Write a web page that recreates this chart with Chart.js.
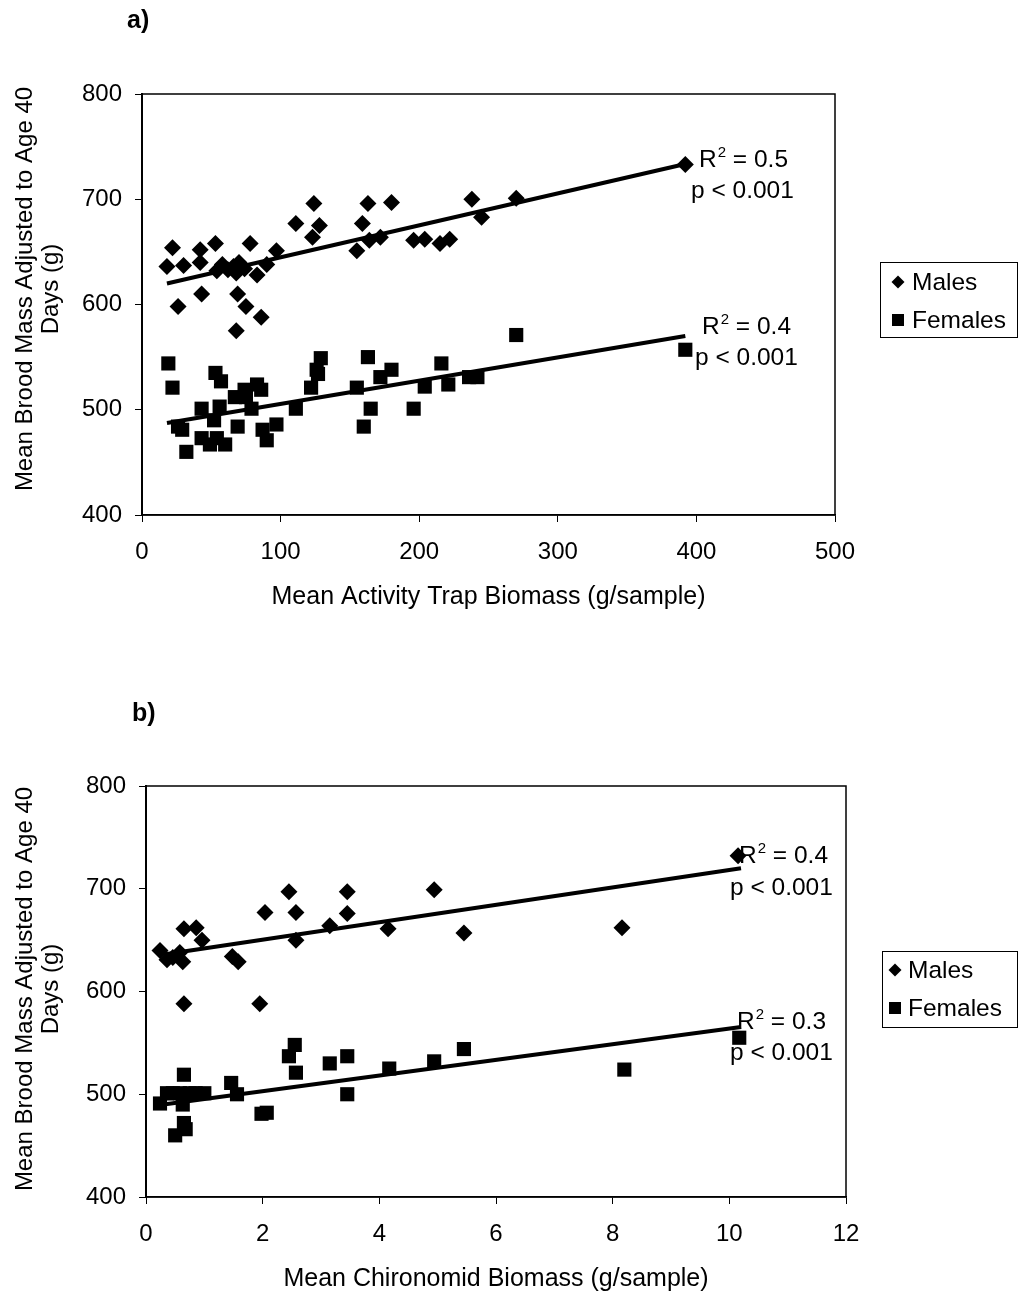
<!DOCTYPE html>
<html>
<head>
    <meta charset="UTF-8">
    <title>Brood mass vs biomass</title>
    <style>
        body { margin: 0; background: #fff; }
        canvas { position: absolute; left: 0; }
    </style>
</head>
<body>
<script src="https://cdn.jsdelivr.net/npm/chart.js@4.4.1/dist/chart.umd.min.js"></script>
<canvas id="chartA" width="1018" height="640" style="top:0"></canvas>
<canvas id="chartB" width="1018" height="655" style="top:640px"></canvas>

<script type="text/javascript">
    // panel a) - activity trap biomass
    var aMaleX = [18, 22, 26, 30, 42, 42, 43, 53, 54, 58, 62, 66, 68, 70, 69, 68, 74, 75, 78, 83, 86, 90, 97,
        111, 123, 124, 128, 155, 159, 163, 164, 172, 180, 196, 204, 215, 222, 238, 245, 270, 392];
    var aMaleY = [636, 654, 598, 637, 652, 640, 610, 658, 632, 638, 633, 636, 630, 640, 610, 575, 634, 598, 658, 628, 588, 638, 651,
        677, 664, 696, 675, 651, 677, 696, 661, 664, 697, 661, 662, 658, 662, 700, 683, 701, 733];
    var aFemaleX = [19, 22, 26, 29, 32, 43, 43, 49, 52, 53, 54, 56, 57, 60, 67, 69, 74, 75, 79, 83, 86, 87, 90, 97,
        111, 122, 126, 127, 129, 155, 160, 163, 165, 172, 180, 196, 204, 216, 221, 236, 242, 270, 392];
    var aFemaleY = [544, 521, 484, 481, 460, 501, 473, 467, 490, 535, 473, 503, 527, 467, 512, 484, 519, 512, 501, 524, 519, 481, 471, 486,
        501, 521, 538, 534, 549, 521, 484, 550, 501, 531, 538, 501, 522, 544, 524, 531, 531, 571, 557];
    var aTrendX = [18, 392];
    var aMaleTrend = [620, 733.5];
    var aFemaleTrend = [487.5, 570];

    // panel b) - chironomid biomass
    var bMaleX = [0.24, 0.36, 0.46, 0.58, 0.63, 0.65, 0.65, 0.86, 0.96, 1.48, 1.58, 1.95, 2.04, 2.45, 2.57, 2.57,
        3.15, 3.45, 3.45, 4.15, 4.94, 5.45, 8.16, 10.15];
    var bMaleY = [640, 631, 633, 638, 629, 588, 661, 662, 650, 634, 629, 588, 677, 697, 677, 650,
        664, 697, 676, 661, 699, 657, 662, 732];
    var bFemaleX = [0.24, 0.36, 0.46, 0.5, 0.58, 0.63, 0.65, 0.65, 0.68, 0.75, 0.85, 1.0, 1.46, 1.56, 1.98, 2.07,
        2.45, 2.55, 2.57, 3.15, 3.45, 3.45, 4.17, 4.94, 5.45, 8.2, 10.17];
    var bFemaleY = [491, 501, 501, 460, 501, 490, 519, 472, 466, 501, 501, 501, 511, 500, 481, 482,
        537, 548, 521, 530, 537, 500, 525, 532, 544, 524, 555];
    var bTrendX = [0.3, 10.2];
    var bMaleTrend = [636, 720];
    var bFemaleTrend = [490, 565.5];

    var yTitle = ['Mean Brood Mass Adjusted to Age 40', 'Days (g)'];
    var FONT = 'Liberation Sans, Arial, sans-serif';

    Chart.defaults.font.family = FONT;
    Chart.defaults.font.size = 24;
    Chart.defaults.color = '#000';

    var pts = function(xs, ys) {
        return xs.map(function(x, i) { return {x: x, y: ys[i]}; });
    };

    // box, y title, panel letter, stats and legend drawn on top
    var overlay = function(o) {
        return {
            id: 'overlay',
            afterDraw: function(chart) {
                var ctx = chart.ctx, a = chart.chartArea;
                ctx.save();
                ctx.strokeStyle = '#000';
                ctx.lineWidth = 1.5;
                ctx.strokeRect(a.left, a.top, a.right - a.left, a.bottom - a.top);
                ctx.fillStyle = '#000';

                // y axis title, two lines
                ctx.save();
                ctx.font = '24px ' + FONT;
                ctx.textAlign = 'center';
                ctx.textBaseline = 'middle';
                ctx.translate(0, o.yTitleMid);
                ctx.rotate(-Math.PI / 2);
                ctx.fillText(yTitle[0], 0, 25);
                ctx.fillText(yTitle[1], 0, 51);
                ctx.restore();

                ctx.textBaseline = 'alphabetic';
                ctx.font = 'bold 25px ' + FONT;
                ctx.fillText(o.panel[0], o.panel[1], o.panel[2]);

                o.stats.forEach(function(s) {
                    ctx.font = '24.5px ' + FONT;
                    ctx.fillText('R', s[0], s[1]);
                    var w = ctx.measureText('R').width;
                    ctx.font = '15px ' + FONT;
                    ctx.fillText('2', s[0] + w + 1, s[1] - 10);
                    var w2 = ctx.measureText('2').width;
                    ctx.font = '24.5px ' + FONT;
                    ctx.fillText(' = ' + s[2], s[0] + w + w2 + 1, s[1]);
                    ctx.fillText('p < 0.001', s[3], s[4]);
                });

                var L = o.legend;
                ctx.lineWidth = 1;
                ctx.strokeRect(L.x + 0.5, L.y + 0.5, L.w, L.h);
                ctx.textBaseline = 'middle';
                ctx.font = '24.5px ' + FONT;
                chart.data.datasets.forEach(function(ds, i) {
                    if (!ds.label) return;
                    var cy = L.rows[i];
                    if (ds.pointStyle === 'rectRot') {
                        Chart.helpers.drawPoint(ctx, {pointStyle: 'rectRot', radius: 6.5, borderWidth: 0}, L.mx, cy);
                    } else {
                        ctx.fillRect(L.mx - 6, cy - 6, 12, 12);
                    }
                    ctx.fillText(ds.label, L.tx, cy + 1);
                });
                ctx.restore();
            }
        };
    };

    var makeChart = function(id, cfg) {
        var canvas = document.getElementById(id);
        var H = canvas.height;
        return new Chart(canvas.getContext('2d'), {
            type: 'scatter',
            data: {
                datasets: [
                    {label: 'Males', data: pts(cfg.maleX, cfg.maleY), pointStyle: 'rectRot', pointRadius: 8.5,
                        backgroundColor: '#000', borderWidth: 0},
                    {label: 'Females', data: pts(cfg.femaleX, cfg.femaleY), pointStyle: 'rect', pointRadius: 10,
                        backgroundColor: '#000', borderWidth: 0},
                    {data: pts(cfg.trendX, cfg.maleTrend), showLine: true, pointRadius: 0, borderColor: '#000', borderWidth: 4},
                    {data: pts(cfg.trendX, cfg.femaleTrend), showLine: true, pointRadius: 0, borderColor: '#000', borderWidth: 4}
                ]
            },
            options: {
                responsive: false,
                animation: false,
                layout: {padding: {top: cfg.top, right: 1018 - cfg.right, left: 0, bottom: 0}},
                plugins: {legend: {display: false}, tooltip: {enabled: false}},
                scales: {
                    x: {
                        type: 'linear', min: cfg.xMin, max: cfg.xMax,
                        ticks: {stepSize: cfg.xStep, padding: 16},
                        grid: {drawOnChartArea: false, drawTicks: true, tickLength: 7, color: '#000'},
                        border: {display: true, color: '#000', width: 1.5},
                        title: {display: true, text: cfg.xTitle, font: {size: 25, lineHeight: 1.1}, padding: {bottom: cfg.xTitlePad}},
                        afterFit: function(s) { s.height = H - cfg.bottom; }
                    },
                    y: {
                        min: 400, max: 800,
                        ticks: {stepSize: 100, padding: 13},
                        grid: {drawOnChartArea: false, drawTicks: true, tickLength: 7, color: '#000'},
                        border: {display: true, color: '#000', width: 2},
                        title: {display: false},
                        afterFit: function(s) { s.width = cfg.left; }
                    }
                }
            },
            plugins: [overlay(cfg.notes)]
        });
    };

    makeChart('chartA', {
        maleX: aMaleX, maleY: aMaleY, femaleX: aFemaleX, femaleY: aFemaleY,
        trendX: aTrendX, maleTrend: aMaleTrend, femaleTrend: aFemaleTrend,
        xMin: 0, xMax: 500, xStep: 100, xTitle: 'Mean Activity Trap Biomass (g/sample)',
        left: 142, right: 835, top: 94, bottom: 515, xTitlePad: 29,
        notes: {
            yTitleMid: 289,
            panel: ['a)', 127, 28],
            stats: [[699, 167, '0.5', 691, 198], [702, 334, '0.4', 695, 365]],
            legend: {x: 880, y: 262, w: 137, h: 75, mx: 898, tx: 912, rows: [282, 320]}
        }
    });

    makeChart('chartB', {
        maleX: bMaleX, maleY: bMaleY, femaleX: bFemaleX, femaleY: bFemaleY,
        trendX: bTrendX, maleTrend: bMaleTrend, femaleTrend: bFemaleTrend,
        xMin: 0, xMax: 12, xStep: 2, xTitle: 'Mean Chironomid Biomass (g/sample)',
        left: 146, right: 846, top: 146, bottom: 557, xTitlePad: 2,
        notes: {
            yTitleMid: 349,
            panel: ['b)', 132, 81],
            stats: [[739, 223, '0.4', 730, 255], [737, 389, '0.3', 730, 420]],
            legend: {x: 882, y: 311, w: 135, h: 76, mx: 895, tx: 908, rows: [330, 368]}
        }
    });
</script>
</body>
</html>
